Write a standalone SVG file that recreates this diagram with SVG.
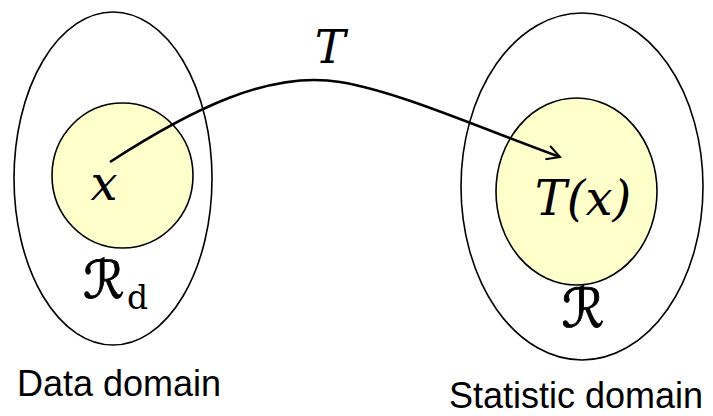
<svg xmlns="http://www.w3.org/2000/svg" width="713" height="416" viewBox="0 0 713 416">
<style>
.outer{fill:none;stroke:#000;stroke-width:1.6}
.inner{fill:#FFFFCC;stroke:#000;stroke-width:1.6}
.math{font-family:"DejaVu Serif","Liberation Serif",serif;font-style:italic;fill:#000}
.script{font-family:"DejaVu Sans","Noto Sans",sans-serif;fill:#000;stroke:#000;stroke-width:0.9}
.up{font-family:"DejaVu Serif","Liberation Serif",serif;fill:#000}
.cap{font-family:"Liberation Sans",Arial,sans-serif;font-size:36px;fill:#000}
.conn{fill:none;stroke:#000;stroke-width:2.5}
</style>
<defs>
<marker id="arr" markerWidth="16" markerHeight="16" refX="14" refY="8" orient="auto" markerUnits="userSpaceOnUse">
<polyline points="1,1 14,8 1,15" fill="none" stroke="#000" stroke-width="2"/>
</marker>
</defs>
<g id="data-domain">
<ellipse class="outer" cx="113" cy="178.5" rx="99" ry="166.5"/>
<ellipse class="inner" cx="122.5" cy="175.5" rx="70.5" ry="72.5"/>
<text class="math" x="104" y="200" font-size="48" text-anchor="middle">x</text>
<text class="script" x="83" y="298" font-size="52">ℛ</text>
<text class="up" x="127" y="309" font-size="33">d</text>
<text class="cap" x="17" y="396">Data domain</text>
</g>
<g id="statistic-domain">
<ellipse class="outer" cx="582" cy="186.5" rx="121" ry="173.5"/>
<ellipse class="inner" cx="576.5" cy="191.5" rx="80.5" ry="93.5"/>
<text class="math" x="583" y="215" font-size="48" text-anchor="middle">T(x)</text>
<text class="script" x="583" y="327" font-size="54" text-anchor="middle">ℛ</text>
<text class="cap" x="449" y="408">Statistic domain</text>
</g>
<g id="connectors">
<path class="conn" d="M110,162 C190,110 270,70 340,82 C400,92 480,128 560,157" marker-end="url(#arr)"/>
<text class="math" x="330" y="63" font-size="46" text-anchor="middle">T</text>
</g>
</svg>
